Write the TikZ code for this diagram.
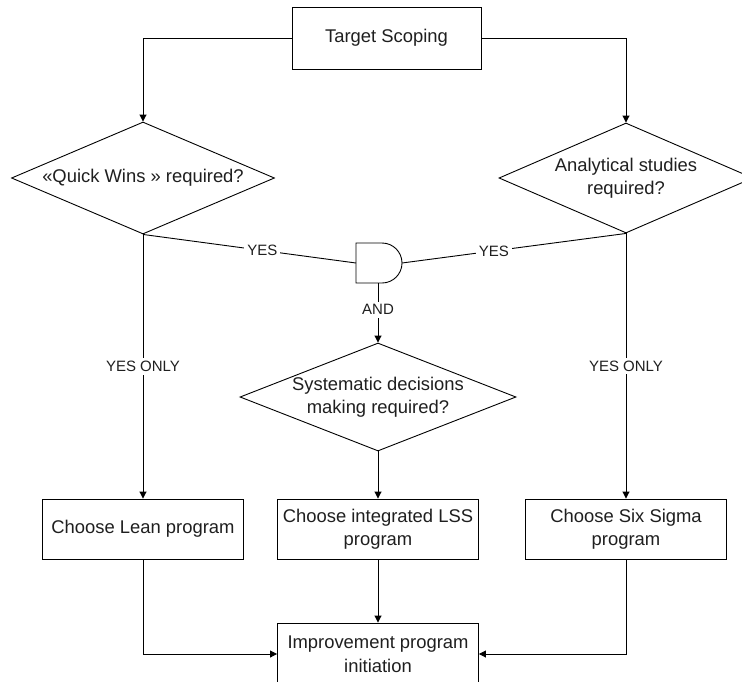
\documentclass[tikz,border=0pt]{standalone}
\usepackage{fontspec}
\setmainfont{Liberation Sans}
\usetikzlibrary{shapes.geometric,arrows.meta}
\begin{document}
\begin{tikzpicture}[x=1pt,y=-1pt,
  line width=0.9pt,
  txt/.style={font=\fontsize{18.4}{23.5}\selectfont, text=black!88},
  box/.style={draw, rectangle, minimum width=201pt, minimum height=60pt, inner sep=2pt, align=center, txt},
  dec/.style={draw, diamond, inner sep=0pt, align=center, txt},
  lbl/.style={fill=white, inner sep=3pt, font=\fontsize{15}{18}\selectfont, text=black!88},
  arr/.style={-{Triangle[length=7pt,width=7pt]}}]
\clip (0,0) rectangle (742,681);
\fill[white] (0,0) rectangle (742,681);

% nodes
\node[box, minimum width=189pt, minimum height=62pt] (target) at (386.5,38) {Target Scoping};
\node[dec, aspect=2.35, minimum width=263pt, minimum height=112pt] (q1) at (143,178) {«Quick Wins » required?};
\node[dec, aspect=2.31, minimum width=254pt, minimum height=110pt] (q2) at (626,178) {Analytical studies\\required?};
\node[dec, aspect=2.56, minimum width=276pt, minimum height=108pt] (q3) at (378,397) {Systematic decisions\\making required?};
\node[box] (lean) at (143,529) {Choose Lean program};
\node[box] (lss) at (378,529) {Choose integrated LSS\\program};
\node[box] (six) at (626,529) {Choose Six Sigma\\program};
\node[box, minimum height=62pt] (impr) at (378,654) {Improvement program\\initiation};

% AND gate
\coordinate (gin) at (356,263);
\coordinate (gout) at (402,263);
\coordinate (gbot) at (378,283);
\draw (356,243) -- (382,243)
  .. controls (393.05,243) and (402,251.95) .. (402,263)
  .. controls (402,274.05) and (393.05,283) .. (382,283)
  -- (356,283) -- cycle;

% connectors
\draw[arr] (target.west) -| (q1.north);
\draw[arr] (target.east) -| (q2.north);
\draw (q1.south) -- node[lbl, pos=0.56] {YES} (gin);
\draw (gout) -- node[lbl, pos=0.41] {YES} (q2.south);
\draw[arr] (gbot) -- node[lbl, pos=0.45] {AND} (q3.north);
\draw[arr] (q1.south) -- node[lbl, pos=0.5] {YES ONLY} (lean.north);
\draw[arr] (q2.south) -- node[lbl, pos=0.5] {YES ONLY} (six.north);
\draw[arr] (q3.south) -- (lss.north);
\draw[arr] (lss.south) -- (impr.north);
\draw[arr] (lean.south) |- (impr.west);
\draw[arr] (six.south) |- (impr.east);
\end{tikzpicture}
\end{document}
